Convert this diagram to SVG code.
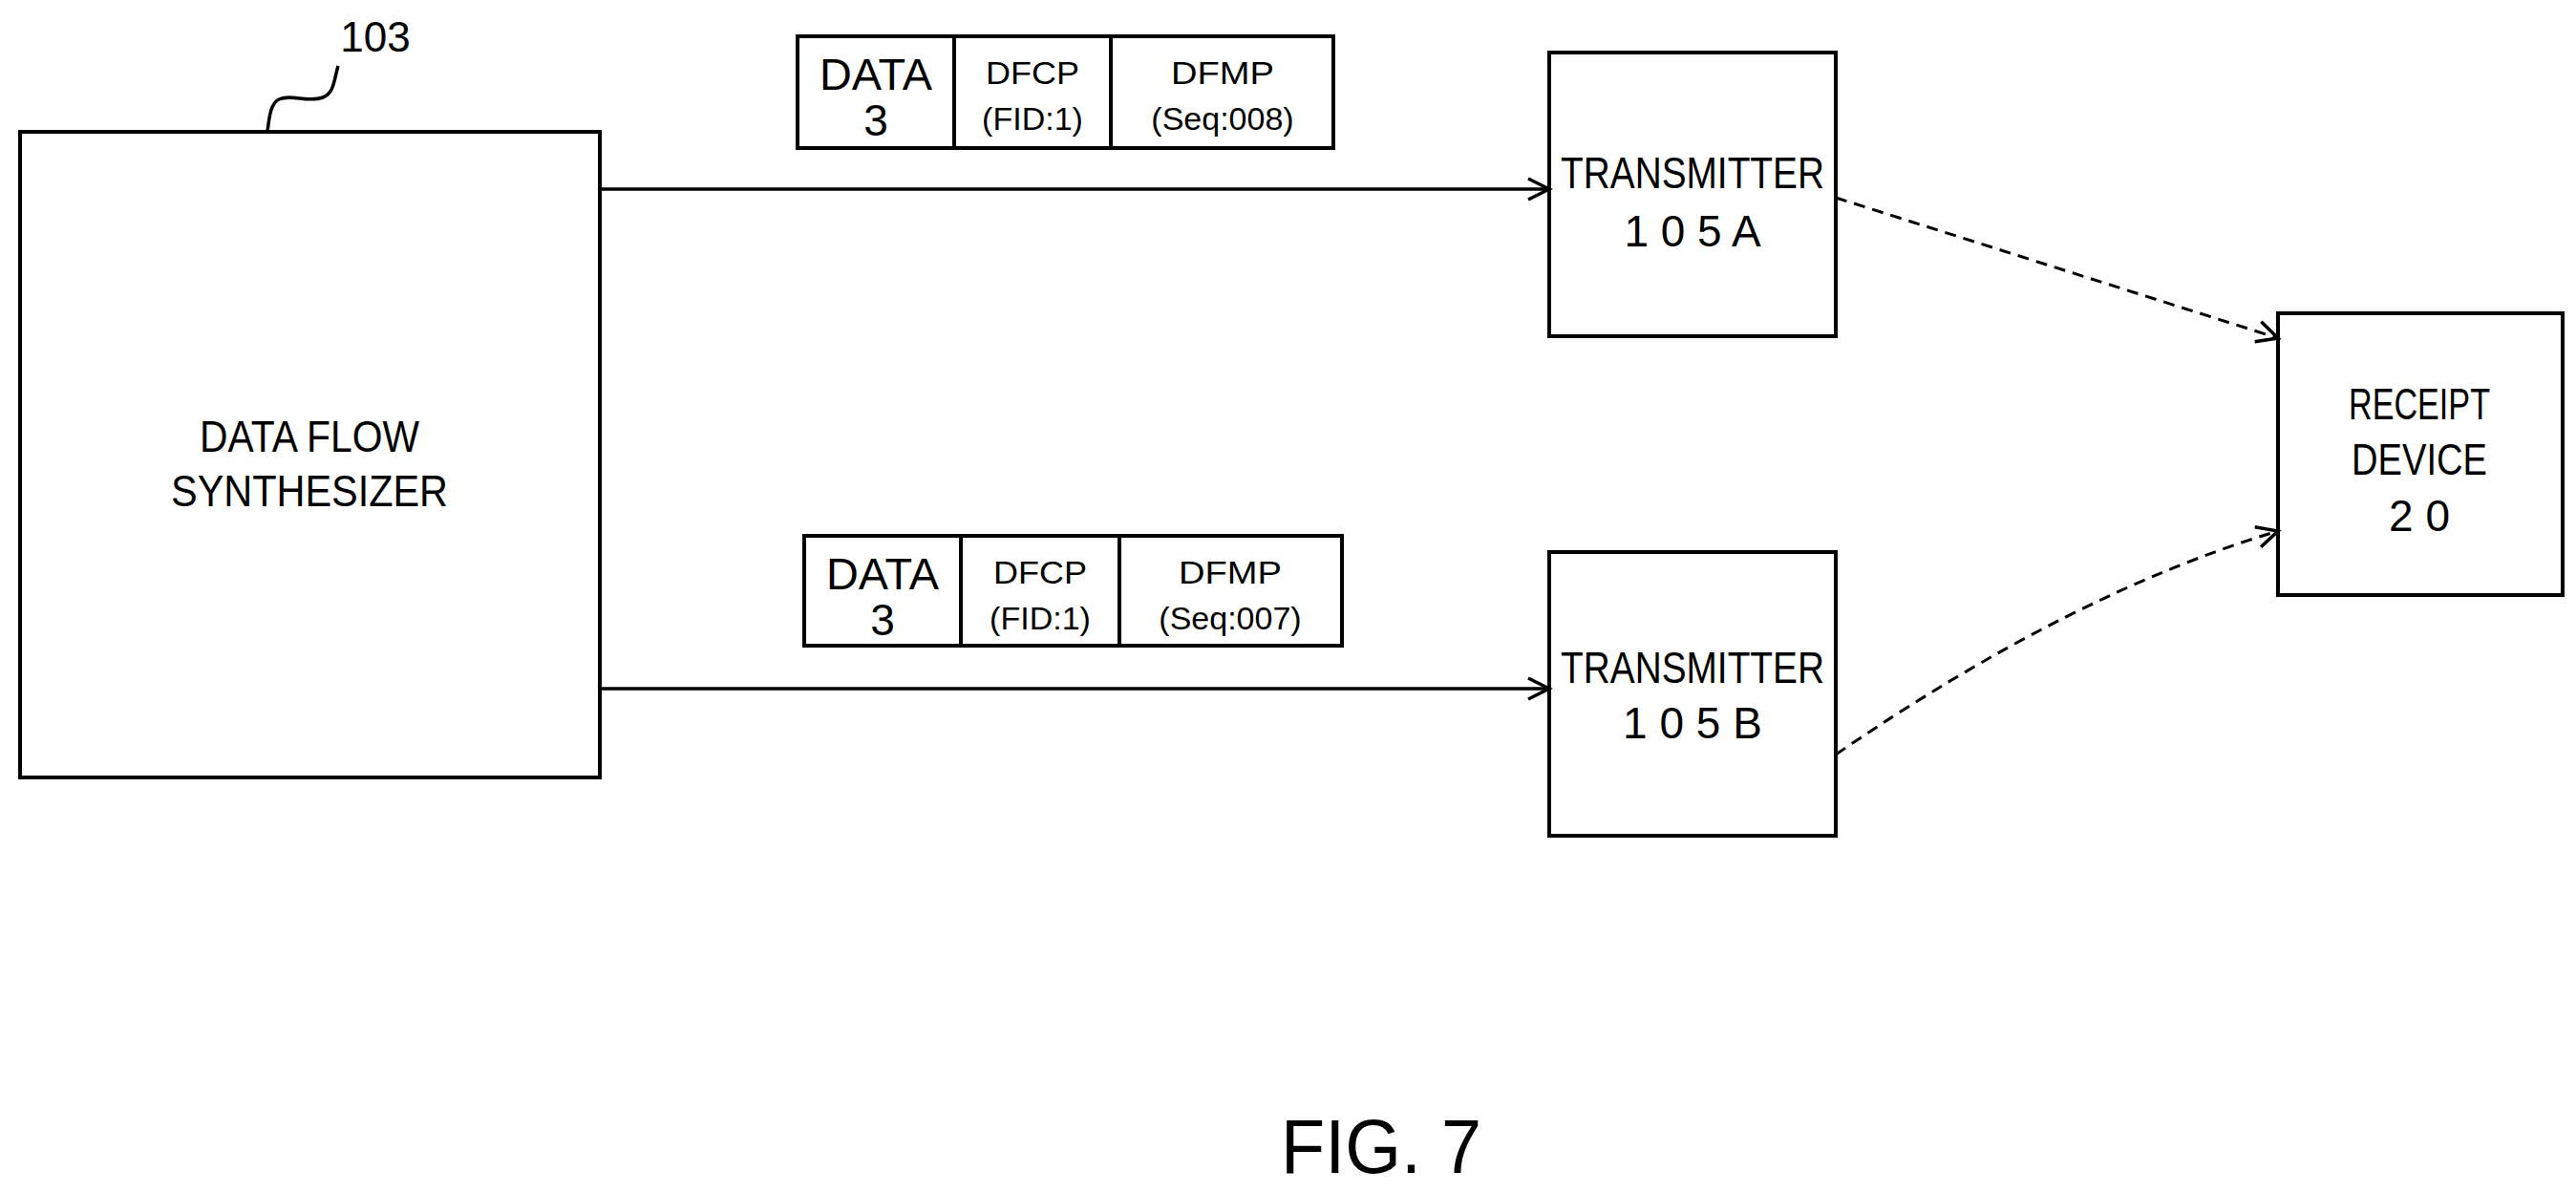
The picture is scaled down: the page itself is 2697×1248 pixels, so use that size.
<svg xmlns="http://www.w3.org/2000/svg" width="2697" height="1248" viewBox="0 0 2697 1248">
<style>
.box{fill:#fff;stroke:#000;stroke-width:4}
.t{font-family:"Liberation Sans",Arial,sans-serif;fill:#000;text-anchor:middle}
.big{font-size:46px}
.sm{font-size:34px}
.ln{fill:none;stroke:#000;stroke-width:3.5}
.ds{fill:none;stroke:#000;stroke-width:3;stroke-dasharray:12 8}
</style>
<defs>
<marker id="ah" markerWidth="30" markerHeight="30" refX="26" refY="15" orient="auto" markerUnits="userSpaceOnUse">
<path d="M4,4 L26,15 L4,26" fill="none" stroke="#000" stroke-width="3.5"/>
</marker>
</defs>
<rect width="2697" height="1248" fill="#fff"/>
<g id="synth">
<rect class="box" x="21" y="138" width="607" height="676"/>
<text class="t big" x="324" y="473" textLength="230" lengthAdjust="spacingAndGlyphs">DATA FLOW</text>
<text class="t big" x="324" y="530" textLength="290" lengthAdjust="spacingAndGlyphs">SYNTHESIZER</text>
<text class="t" font-size="44" x="393" y="54">103</text>
<path class="ln" d="M280,138 C282,120 284,108 292,104 C305,98 322,108 338,102 C350,98 350,82 354,69"/>
</g>
<g id="packetA">
<rect class="box" x="835" y="38" width="561" height="117"/>
<line class="box" x1="999" y1="38" x2="999" y2="155"/>
<line class="box" x1="1163" y1="38" x2="1163" y2="155"/>
<text class="t big" x="917" y="94" textLength="118" lengthAdjust="spacingAndGlyphs">DATA</text>
<text class="t big" x="917" y="142">3</text>
<text class="t sm" x="1081" y="88" textLength="98" lengthAdjust="spacingAndGlyphs">DFCP</text>
<text class="t sm" x="1081" y="136">(FID:1)</text>
<text class="t sm" x="1280" y="88" textLength="108" lengthAdjust="spacingAndGlyphs">DFMP</text>
<text class="t sm" x="1280" y="136">(Seq:008)</text>
</g>
<g id="packetB">
<rect class="box" x="842" y="561" width="563" height="115"/>
<line class="box" x1="1006" y1="561" x2="1006" y2="676"/>
<line class="box" x1="1172" y1="561" x2="1172" y2="676"/>
<text class="t big" x="924" y="617" textLength="118" lengthAdjust="spacingAndGlyphs">DATA</text>
<text class="t big" x="924" y="665">3</text>
<text class="t sm" x="1089" y="611" textLength="98" lengthAdjust="spacingAndGlyphs">DFCP</text>
<text class="t sm" x="1089" y="659">(FID:1)</text>
<text class="t sm" x="1288" y="611" textLength="108" lengthAdjust="spacingAndGlyphs">DFMP</text>
<text class="t sm" x="1288" y="659">(Seq:007)</text>
</g>
<g id="txA">
<rect class="box" x="1622" y="55" width="300" height="297"/>
<text class="t big" x="1772" y="197" textLength="276" lengthAdjust="spacingAndGlyphs">TRANSMITTER</text>
<text class="t big" x="1772" y="258">1 0 5 A</text>
</g>
<g id="txB">
<rect class="box" x="1622" y="578" width="300" height="297"/>
<text class="t big" x="1772" y="715" textLength="276" lengthAdjust="spacingAndGlyphs">TRANSMITTER</text>
<text class="t big" x="1772" y="773">1 0 5 B</text>
</g>
<g id="receipt">
<rect class="box" x="2385" y="328" width="298" height="295"/>
<text class="t big" x="2533" y="439" textLength="148" lengthAdjust="spacingAndGlyphs">RECEIPT</text>
<text class="t big" x="2533" y="497" textLength="142" lengthAdjust="spacingAndGlyphs">DEVICE</text>
<text class="t big" x="2533" y="556">2 0</text>
</g>
<g id="connectors">
<line class="ln" x1="628" y1="198" x2="1622" y2="198" marker-end="url(#ah)"/>
<line class="ln" x1="628" y1="721" x2="1622" y2="721" marker-end="url(#ah)"/>
<path class="ds" d="M1922,207 L2385,354" marker-end="url(#ah)"/>
<path class="ds" d="M1922,790 Q2170,620 2385,556" marker-end="url(#ah)"/>
</g>
<text class="t" font-size="80" x="1446" y="1228" textLength="210" lengthAdjust="spacingAndGlyphs">FIG. 7</text>
</svg>
